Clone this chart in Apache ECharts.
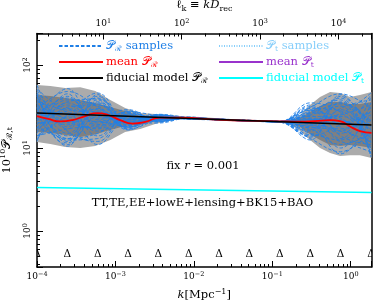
<!DOCTYPE html>
<html><head><meta charset="utf-8">
<script src="https://cdn.jsdelivr.net/npm/echarts@6/dist/echarts.min.js"></script>
<style>html,body{margin:0;padding:0;background:#fff}#c{width:373px;height:303px}</style>
</head><body><div id="c"></div>
<script>
// ---------------- data ----------------
const kMin = 1e-4, kMax = 1.84;
const Drec = 14300;
const yMin = 0.368, yMax = 240;

// spline knots (k in Mpc^-1)
const knotK = [1e-4, 2.44e-4, 5.94e-4, 1.45e-3, 3.53e-3, 8.6e-3, 2.1e-2, 5.1e-2, 0.125, 0.305, 0.743, 1.81];

// sample curves of 10^10 P_R at the knots
const samplesR = [
  [57, 18, 35, 19, 24, 22.8, 22.0, 21.3, 20.8, 26, 34, 20],
  [12, 45, 20, 25, 21, 23.4, 21.8, 21.1, 20.6, 15, 12, 9],
  [45, 12, 44, 17, 25, 22.4, 22.2, 21.5, 21.0, 31, 45, 30],
  [16, 30, 14, 24, 22, 23.1, 21.9, 21.2, 20.7, 18, 16, 12],
  [30, 14, 28, 20, 23.5, 22.6, 22.3, 21.4, 20.9, 22, 26, 46],
  [22, 52, 18, 28, 20.5, 23.5, 21.7, 21.3, 20.5, 13, 9, 16],
  [38, 20, 30, 16.5, 22.8, 22.9, 22.1, 21.0, 20.8, 28, 38, 8],
  [14, 25, 40, 22, 24.5, 22.3, 22.0, 21.6, 21.1, 20, 20, 25],
  [26, 11, 24, 21, 21.5, 23.2, 21.8, 21.2, 20.6, 33, 14, 11],
  [50, 16, 12, 26, 23, 22.7, 22.2, 21.4, 20.7, 16, 30, 38],
  [19, 38, 32, 18, 25.5, 23.3, 21.9, 21.3, 20.9, 24, 22, 14],
  [33, 22, 17, 23, 22.2, 22.5, 22.4, 21.1, 20.4, 19, 8.5, 22],
  [24, 28, 46, 20, 20, 23.0, 21.7, 21.5, 20.8, 12.5, 42, 18],
  [42, 15, 26, 17.5, 23.8, 22.8, 22.0, 21.2, 21.0, 29, 18, 10],
  [17, 33, 22, 27, 22.5, 23.6, 22.1, 21.3, 20.6, 21, 25, 33],
  [28, 19, 36, 19.5, 24.8, 22.4, 21.8, 21.4, 20.7, 17, 11, 15],
  [35, 13, 15, 24, 21, 23.1, 22.3, 21.1, 20.9, 25, 32, 7.8],
  [13, 24, 29, 18.5, 23.2, 22.6, 21.9, 21.5, 20.5, 14, 19, 27],
  [21, 42, 19, 21.5, 25, 22.9, 22.0, 21.2, 20.8, 30, 28, 13],
  [47, 17, 38, 16.8, 21.8, 23.3, 21.6, 21.3, 20.6, 23, 13, 42],
  [27, 26, 11, 22.5, 22.6, 22.5, 22.2, 21.0, 21.0, 18.5, 24, 19],
  [15, 35, 25, 29, 20.8, 23.2, 21.9, 21.4, 20.7, 27, 40, 9.5],
  [31, 10.5, 34, 19, 24.2, 22.7, 22.1, 21.3, 20.8, 20, 17, 24],
  [20, 21, 21, 25.5, 23.6, 23.0, 22.0, 21.2, 20.9, 22, 21, 17],
  [36, 27, 16, 22, 22.9, 23.0, 22.0, 21.4, 20.7, 35, 27, 12],
  [18, 13, 27, 18, 24, 22.6, 21.9, 21.2, 20.8, 14.5, 36, 21],
  [25, 40, 23, 23.5, 21.2, 23.1, 22.1, 21.3, 20.6, 19.5, 10, 35],
  [40, 23, 42, 20.5, 23.4, 22.7, 22.0, 21.3, 20.9, 26.5, 23, 11.5],
  [14, 17, 19, 26.5, 22.4, 22.9, 21.8, 21.4, 20.7, 22.5, 15, 28],
  [29, 48, 31, 17.8, 25.2, 22.5, 22.2, 21.2, 20.8, 16.5, 44, 14],
  [23, 12.5, 13, 24.5, 22, 23.4, 21.9, 21.3, 20.6, 31.5, 19.5, 44],
  [52, 29, 27, 21, 23.9, 22.8, 22.1, 21.1, 20.9, 13.5, 29, 16.5],
  [17.5, 36, 39, 19.8, 21.6, 22.6, 22.0, 21.5, 20.7, 24.5, 12.5, 23],
  [32, 20.5, 17.5, 27.5, 24.6, 23.1, 21.8, 21.3, 20.8, 20.5, 35, 8.5],
  [12.5, 31, 33, 22, 23, 22.9, 22.2, 21.2, 20.6, 28.5, 16, 31],
  [44, 11.5, 21, 18, 22.3, 23.2, 21.9, 21.4, 20.9, 17.5, 21.5, 13]
];

// credible bands
const bandK = [1e-4, 1.48e-4, 2.29e-4, 3.56e-4, 5.54e-4, 8.6e-4, 1.33e-3, 2.07e-3, 3.21e-3, 4.99e-3, 7.75e-3, 1.2e-2, 3.89e-2, 0.126, 0.169, 0.226, 0.303, 0.406, 0.545, 0.731, 0.98, 1.31, 1.84];
const band2Up = [57.4, 55.8, 52.8, 54.1, 48.6, 37.9, 30.3, 26.4, 25.7, 25.0, 24.0, 23.6, 21.9, 21.3, 21.7, 25.0, 33.0, 41.1, 47.3, 46.0, 41.1, 43.5, 47.3];
const band2Lo = [11.8, 11.2, 10.3, 10.0, 10.6, 12.5, 15.6, 16.9, 19.5, 21.4, 22.4, 22.6, 20.9, 20.4, 19.3, 16.0, 12.5, 10.0, 8.7, 8.0, 8.2, 8.2, 7.6];
const band1Up = [43.5, 42.3, 40.0, 37.9, 34.8, 31.2, 27.9, 24.3, 24.3, 24.0, 23.6, 23.3, 21.7, 21.0, 21.1, 23.0, 27.2, 32.0, 35.8, 35.8, 33.9, 33.9, 35.8];
const band1Lo = [15.6, 15.2, 14.3, 13.6, 14.7, 16.5, 18.4, 18.9, 21.1, 22.4, 22.7, 22.9, 21.2, 20.6, 20.1, 17.9, 14.7, 12.5, 10.9, 10.6, 10.9, 10.6, 10.0];

// mean P_R
const meanK = [1e-4, 1.39e-4, 1.98e-4, 2.82e-4, 4.12e-4, 5.86e-4, 8.1e-4, 1.15e-3, 1.64e-3, 2.39e-3, 3.72e-3, 6.7e-3, 2.16e-2, 0.126, 0.226, 0.351, 0.545, 0.731, 0.98, 1.31, 1.84];
const meanR = [24.3, 22.4, 20.9, 21.7, 24.3, 26.4, 25.0, 21.7, 19.7, 20.6, 23.3, 23.3, 21.9, 21.0, 20.8, 21.1, 21.7, 21.1, 18.2, 16.0, 15.2];

// fiducial models
const fidK = [1e-4, 1.84];
const fidR = [26.4, 18.9];
const fidT = [3.34, 2.91];

// ---------------- style ----------------
const FONT = 'DejaVu Serif';
const BLUE = '#1f7fe6';
const LBLUE = '#87cefa';
const PURPLE = '#9932cc';
const CYAN = '#00ffff';

function powLabel(v) {
  const l = Math.log10(v);
  const e = Math.round(l);
  if (Math.abs(l - e) > 0.01) return '';
  return '10{sup|' + (e < 0 ? '\u2212' : '') + Math.abs(e) + '}';
}
const tickRich = { sup: { fontSize: 6.5, fontFamily: FONT, verticalAlign: 'top', lineHeight: 12, color: '#000' } };
const nameRich = {
  i: { fontStyle: 'italic', fontFamily: FONT, fontSize: 11.5, lineHeight: 15, color: '#000' },
  sub: { fontSize: 8, fontFamily: FONT, verticalAlign: 'bottom', lineHeight: 15, color: '#000' },
  sup: { fontSize: 8, fontFamily: FONT, verticalAlign: 'top', lineHeight: 15, color: '#000' },
  P: { fontFamily: FONT, fontSize: 11.5, lineHeight: 15, color: '#000' }
};

const axisCommon = {
  type: 'log', logBase: 10,
  axisLine: { show: true, lineStyle: { color: '#000', width: 1.5 } },
  axisTick: { show: true, inside: true, length: 6, lineStyle: { color: '#000', width: 1 } },
  minorTick: { show: true, splitNumber: 9, length: 3, lineStyle: { color: '#000', width: 1 } },
  splitLine: { show: false }, minorSplitLine: { show: false },
  axisLabel: { formatter: powLabel, fontFamily: FONT, fontSize: 9, color: '#000', lineHeight: 12, rich: tickRich }
};

function bandSeries(up, lo, color, z) {
  return {
    type: 'custom', z: z, silent: true, clip: true,
    xAxisIndex: 0, yAxisIndex: 0,
    data: bandK.map((k, i) => [k, lo[i], up[i]]),
    encode: { x: 0, y: [1, 2] },
    renderItem: function (params, api) {
      if (params.dataIndex !== 0) return null;
      const pts = [];
      for (let i = 0; i < bandK.length; i++) pts.push(api.coord([bandK[i], up[i]]));
      for (let i = bandK.length - 1; i >= 0; i--) pts.push(api.coord([bandK[i], lo[i]]));
      return { type: 'polygon', shape: { points: pts }, style: { fill: color, stroke: null } };
    }
  };
}

const series = [];
series.push(bandSeries(band2Up, band2Lo, '#ababab', 1));
series.push(bandSeries(band1Up, band1Lo, '#808080', 2));
samplesR.forEach(function (s) {
  series.push({
    name: 'PR samples', type: 'line', smooth: 0.4, symbol: 'none', z: 3, silent: true,
    lineStyle: { color: BLUE, width: 0.9, type: [3.5, 2] }, itemStyle: { color: BLUE },
    data: knotK.map((k, i) => [k, s[i]])
  });
});
series.push({
  name: 'Pt samples', type: 'line', symbol: 'none', z: 3,
  lineStyle: { color: LBLUE, width: 1, type: [1, 1.5] }, itemStyle: { color: LBLUE }, data: []
});
series.push({
  name: 'mean PR', type: 'line', smooth: 0.5, symbol: 'none', z: 4, silent: true,
  lineStyle: { color: '#ff0000', width: 1.8 }, itemStyle: { color: '#ff0000' },
  data: meanK.map((k, i) => [k, meanR[i]])
});
series.push({
  name: 'mean Pt', type: 'line', symbol: 'none', z: 4,
  lineStyle: { color: PURPLE, width: 1.8 }, itemStyle: { color: PURPLE }, data: []
});
series.push({
  name: 'fid PR', type: 'line', symbol: 'none', z: 5, silent: true,
  lineStyle: { color: '#000', width: 1.5 }, itemStyle: { color: '#000' },
  data: fidK.map((k, i) => [k, fidR[i]])
});
series.push({
  name: 'fid Pt', type: 'line', symbol: 'none', z: 5, silent: true,
  lineStyle: { color: CYAN, width: 1.5 }, itemStyle: { color: CYAN },
  data: fidK.map((k, i) => [k, fidT[i]])
});
// knot markers
series.push({
  type: 'custom', z: 6, silent: true, clip: true,
  data: knotK.map(k => [k, 1]),
  renderItem: function (params, api) {
    const x = api.coord([knotK[params.dataIndex], 1])[0];
    const cs = params.coordSys;
    return { type: 'text', x: x, y: cs.y + cs.height - 12.5,
      style: { text: '\u0394', fontFamily: FONT, fontSize: 10.5, fill: '#000', align: 'center', verticalAlign: 'middle' } };
  }
});

const legendNames = {
  'PR samples': '{P|\uD835\uDCAB}{sub|\u211B} samples',
  'mean PR': 'mean {P|\uD835\uDCAB}{sub|\u211B}',
  'fid PR': 'fiducial model {P|\uD835\uDCAB}{sub|\u211B}',
  'Pt samples': '{P|\uD835\uDCAB}{sub|t} samples',
  'mean Pt': 'mean {P|\uD835\uDCAB}{sub|t}',
  'fid Pt': 'fiducial model {P|\uD835\uDCAB}{sub|t}'
};
const legRich = {
  P: { fontFamily: FONT, fontSize: 11.5, lineHeight: 14 },
  sub: { fontFamily: FONT, fontSize: 7.5, verticalAlign: 'bottom', lineHeight: 14 }
};
function legend(left, items) {
  return {
    left: left, top: 39, orient: 'vertical', itemWidth: 44, itemHeight: 10, itemGap: 2,
    selectedMode: false, padding: 0,
    itemStyle: { opacity: 0 },
    formatter: n => legendNames[n],
    textStyle: { fontFamily: FONT, fontSize: 11.5, lineHeight: 14, rich: legRich, padding: [0, 0, 0, -2] },
    data: items.map(it => ({ name: it[0], textStyle: { color: it[1] } }))
  };
}

const option = {
  animation: false,
  backgroundColor: '#fff',
  textStyle: { fontFamily: FONT },
  grid: { left: 37, right: 1.5, top: 33.5, bottom: 36, containLabel: false, outerBoundsMode: 'none' },
  legend: [
    legend(58, [['PR samples', BLUE], ['mean PR', '#ff0000'], ['fid PR', '#000']]),
    legend(218, [['Pt samples', LBLUE], ['mean Pt', PURPLE], ['fid Pt', CYAN]])
  ],
  xAxis: [
    Object.assign({}, axisCommon, {
      position: 'bottom', min: kMin, max: kMax,
      axisLabel: Object.assign({}, axisCommon.axisLabel, { margin: 4 }),
      name: '{i|k}[Mpc{sup|\u22121}]', nameLocation: 'middle', nameGap: 18,
      nameTextStyle: { fontFamily: FONT, fontSize: 11.5, color: '#000', lineHeight: 15, rich: nameRich }
    }),
    Object.assign({}, axisCommon, {
      position: 'top', min: kMin * Drec, max: kMax * Drec,
      axisLabel: Object.assign({}, axisCommon.axisLabel, { margin: 4 }),
      name: '\u2113{sub|k} \u2261 {i|kD}{sub|rec}', nameLocation: 'middle', nameGap: 20,
      nameTextStyle: { fontFamily: FONT, fontSize: 11.5, color: '#000', lineHeight: 15, rich: nameRich }
    })
  ],
  yAxis: [
    Object.assign({}, axisCommon, {
      position: 'left', min: yMin, max: yMax,
      axisLabel: Object.assign({}, axisCommon.axisLabel, { rotate: 90, margin: 3 }),
      name: '10{sup|10}{P|\uD835\uDCAB}{sub|\u211B,t}', nameLocation: 'middle', nameGap: 20, nameRotate: 90,
      nameTextStyle: { fontFamily: FONT, fontSize: 11.5, color: '#000', lineHeight: 15, rich: nameRich }
    }),
    {
      type: 'log', position: 'right', min: yMin, max: yMax,
      axisLine: { show: true, lineStyle: { color: '#000', width: 1.5 } },
      axisTick: { show: false }, axisLabel: { show: false }, splitLine: { show: false }
    }
  ],
  graphic: [
    { type: 'text', x: 203, y: 166, z: 10,
      style: { text: 'fix {i|r} = 0.001', fontFamily: FONT, fontSize: 11.5, fill: '#000', align: 'center', verticalAlign: 'middle',
        rich: { i: { fontStyle: 'italic', fontFamily: FONT, fontSize: 11.5 } } } },
    { type: 'text', x: 202.5, y: 203.5, z: 10,
      style: { text: 'TT,TE,EE+lowE+lensing+BK15+BAO', fontFamily: FONT, fontSize: 11.5, fill: '#000', align: 'center', verticalAlign: 'middle' } }
  ],
  series: series
};
const chart = echarts.init(document.getElementById('c'));
chart.setOption(option);
</script>
</body></html>
